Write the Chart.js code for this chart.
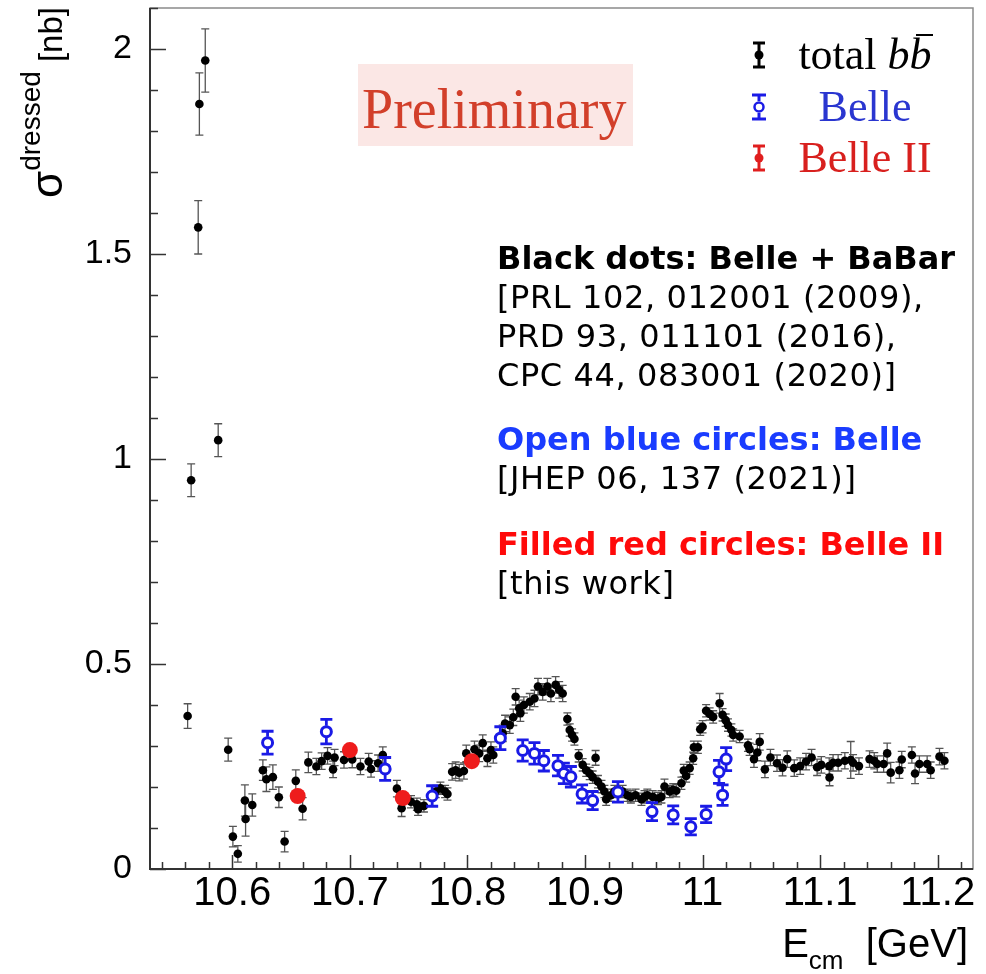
<!DOCTYPE html>
<html lang="en">
<head>
<meta charset="UTF-8">
<title>Dressed b-bbar cross section</title>
<script src="https://cdn.jsdelivr.net/npm/chart.js"></script>
<style>
  body { margin: 0; background: #fff; }
  #wrap { position: relative; width: 986px; height: 974px; overflow: hidden; }
  #chart { position: absolute; left: 0; top: 0; }
  .abs { position: absolute; white-space: nowrap; }
  #ytitle {
    left: 27px; top: 198px;
    transform-origin: 0 0; transform: rotate(-90deg);
    font-family: "Liberation Sans Narrow", "Liberation Sans", sans-serif;
    font-size: 33px; line-height: 40px; color: #000;
  }
  #ytitle .sig { font-size: 44px; }
  #ytitle .sup { font-size: 28px; position: relative; top: -22px; }
  #xtitle {
    right: 18px; top: 923px;
    font-family: "Liberation Sans Narrow", "Liberation Sans", sans-serif;
    font-size: 40px; line-height: 40px; color: #000;
  }
  #xtitle .sub { font-size: 26px; position: relative; top: 12px; }
  #prelimBox { left: 358px; top: 64px; width: 275px; height: 82px; background: #fbe7e5; }
  #prelim {
    left: 362px; top: 81px;
    font-family: "Liberation Serif", serif; font-size: 56px; line-height: 56px; color: #d23f2a;
  }
  .leg {
    width: 200px; left: 765px; text-align: center;
    font-family: "Liberation Serif", serif; font-size: 44px; line-height: 44px;
  }
  .bbar { position: relative; }
  .bbar::before {
    content: ''; position: absolute; left: 0.14em; right: -0.04em; top: 0.1em;
    border-top: 2px solid #000;
  }
  .note {
    left: 497px;
    font-family: "DejaVu Sans", Verdana, sans-serif; font-size: 32px; line-height: 39px; color: #000;
    letter-spacing: 0.6px;
  }
  .note b { font-weight: bold; letter-spacing: 0; }
</style>
</head>
<body>
<div id="wrap">
  <canvas id="chart" width="986" height="974"></canvas>

  <div id="ytitle" class="abs"><span class="sig">σ</span><span class="sup">dressed</span> [nb]</div>
  <div id="xtitle" class="abs">E<span class="sub">cm</span>&nbsp;&nbsp;[GeV]</div>

  <div id="prelimBox" class="abs"></div>
  <div id="prelim" class="abs">Preliminary</div>

  <svg class="abs" style="left:750px; top:41px" width="18" height="28">
    <line x1="9" y1="2" x2="9" y2="26" stroke="#000" stroke-width="3"/>
    <line x1="3" y1="2" x2="15" y2="2" stroke="#000" stroke-width="3"/>
    <line x1="3" y1="26" x2="15" y2="26" stroke="#000" stroke-width="3"/>
    <circle cx="9" cy="14" r="4.5" fill="#000"/>
  </svg>
  <svg class="abs" style="left:750px; top:93px" width="18" height="28">
    <line x1="9" y1="2" x2="9" y2="8" stroke="#1a1ae6" stroke-width="3"/>
    <line x1="9" y1="20" x2="9" y2="26" stroke="#1a1ae6" stroke-width="3"/>
    <line x1="2" y1="2" x2="16" y2="2" stroke="#1a1ae6" stroke-width="3"/>
    <line x1="2" y1="26" x2="16" y2="26" stroke="#1a1ae6" stroke-width="3"/>
    <circle cx="9" cy="14" r="4.5" fill="#fff" stroke="#1a1ae6" stroke-width="2.5"/>
  </svg>
  <svg class="abs" style="left:750px; top:144px" width="18" height="28">
    <line x1="9" y1="2" x2="9" y2="26" stroke="#e01e1e" stroke-width="3"/>
    <line x1="3" y1="2" x2="15" y2="2" stroke="#e01e1e" stroke-width="3"/>
    <line x1="3" y1="26" x2="15" y2="26" stroke="#e01e1e" stroke-width="3"/>
    <circle cx="9" cy="14" r="4.5" fill="#e01e1e"/>
  </svg>
  <div class="abs leg" style="top:33px; color:#000">total <i>b<span class="bbar">b</span></i></div>
  <div class="abs leg" style="top:85px; color:#2a36d0">Belle</div>
  <div class="abs leg" style="top:136px; color:#d8201e">Belle II</div>

  <div class="abs note" style="top:239px">
    <b>Black dots: Belle + BaBar</b><br>
    [PRL 102, 012001 (2009),<br>
    PRD 93, 011101 (2016),<br>
    CPC 44, 083001 (2020)]
  </div>
  <div class="abs note" style="top:420px">
    <b style="color:#1a3cff">Open blue circles: Belle</b><br>
    [JHEP 06, 137 (2021)]
  </div>
  <div class="abs note" style="top:525px">
    <b style="color:#ff0a0a">Filled red circles: Belle II</b><br>
    [this work]
  </div>
</div>

<script>
// axis ticks
const xTicks = [10.6, 10.7, 10.8, 10.9, 11, 11.1, 11.2];
const yTicks = [0, 0.5, 1, 1.5, 2];

// total b-bbar (Belle + BaBar), E_cm [GeV], sigma [nb], error [nb]
const bbE = [10.562, 10.565, 10.571, 10.572, 10.577, 10.588, 10.5965, 10.6005, 10.6047, 10.6107,
  10.6113, 10.617, 10.626, 10.629, 10.6345, 10.6396, 10.6445, 10.654, 10.6598, 10.6647,
  10.6715, 10.676, 10.681, 10.6857, 10.687, 10.695, 10.702, 10.709, 10.716, 10.718,
  10.724, 10.728, 10.740, 10.744, 10.752, 10.757, 10.758, 10.763, 10.773, 10.777,
  10.781, 10.783, 10.787, 10.790, 10.793, 10.797, 10.799, 10.806, 10.810, 10.813,
  10.817, 10.820, 10.822, 10.830, 10.832, 10.836, 10.839, 10.841, 10.844, 10.845,
  10.848, 10.853, 10.857, 10.860, 10.864, 10.868, 10.871, 10.875, 10.878, 10.881,
  10.885, 10.887, 10.889, 10.891, 10.8946, 10.898, 10.901, 10.904, 10.9065, 10.909,
  10.911, 10.914, 10.9165, 10.918, 10.922, 10.925, 10.932, 10.936, 10.939, 10.943,
  10.948, 10.9506, 10.953, 10.9576, 10.962, 10.965, 10.9676, 10.972, 10.975, 10.9776,
  10.982, 10.984, 10.986, 10.989, 10.992, 10.9926, 10.996, 10.998, 11.000, 11.003,
  11.006, 11.009, 11.0145, 11.017, 11.0196, 11.0216, 11.0245, 11.026, 11.0315, 11.0386,
  11.040, 11.0437, 11.0466, 11.0486, 11.053, 11.0577, 11.0633, 11.068, 11.072, 11.078,
  11.083, 11.088, 11.0927, 11.0974, 11.101, 11.1077, 11.108, 11.111, 11.1153, 11.121,
  11.126, 11.128, 11.133, 11.142, 11.146, 11.1486, 11.154, 11.157, 11.160, 11.1674,
  11.1694, 11.178, 11.1807, 11.1844, 11.191, 11.194, 11.2015, 11.2057];
const bbSigma = [0.373, 0.948, 1.565, 1.866, 1.972, 1.046, 0.291, 0.079, 0.037, 0.167,
  0.122, 0.156, 0.241, 0.219, 0.224, 0.175, 0.067, 0.215, 0.147, 0.260,
  0.250, 0.263, 0.276, 0.243, 0.272, 0.266, 0.267, 0.250, 0.262, 0.244,
  0.258, 0.278, 0.196, 0.148, 0.164, 0.158, 0.146, 0.154, 0.189, 0.197,
  0.189, 0.183, 0.237, 0.241, 0.235, 0.239, 0.282, 0.292, 0.282, 0.307,
  0.270, 0.290, 0.278, 0.331, 0.355, 0.351, 0.370, 0.420, 0.392, 0.380,
  0.400, 0.408, 0.416, 0.445, 0.432, 0.445, 0.428, 0.449, 0.437, 0.428,
  0.366, 0.339, 0.327, 0.317, 0.276, 0.254, 0.241, 0.233, 0.224, 0.271,
  0.213, 0.201, 0.189, 0.170, 0.180, 0.189, 0.189, 0.180, 0.176, 0.180,
  0.170, 0.176, 0.180, 0.176, 0.172, 0.176, 0.201, 0.189, 0.193, 0.191,
  0.209, 0.240, 0.227, 0.246, 0.270, 0.297, 0.297, 0.341, 0.347, 0.386,
  0.378, 0.371, 0.404, 0.376, 0.363, 0.351, 0.339, 0.327, 0.323, 0.302,
  0.292, 0.268, 0.284, 0.310, 0.243, 0.272, 0.258, 0.247, 0.268, 0.246,
  0.251, 0.262, 0.272, 0.248, 0.254, 0.251, 0.223, 0.259, 0.259, 0.264,
  0.266, 0.259, 0.251, 0.268, 0.264, 0.256, 0.256, 0.282, 0.235, 0.241,
  0.267, 0.278, 0.233, 0.256, 0.256, 0.241, 0.274, 0.264];
const bbErr = [0.030, 0.040, 0.065, 0.076, 0.077, 0.040, 0.028, 0.025, 0.020, 0.038,
  0.042, 0.027, 0.025, 0.030, 0.030, 0.025, 0.025, 0.027, 0.027, 0.025,
  0.020, 0.020, 0.020, 0.020, 0.020, 0.020, 0.020, 0.020, 0.020, 0.020,
  0.020, 0.020, 0.020, 0.020, 0.015, 0.015, 0.015, 0.015, 0.015, 0.015,
  0.015, 0.015, 0.020, 0.020, 0.020, 0.020, 0.020, 0.020, 0.020, 0.020,
  0.020, 0.020, 0.020, 0.020, 0.020, 0.020, 0.020, 0.020, 0.020, 0.020,
  0.020, 0.020, 0.020, 0.020, 0.020, 0.020, 0.020, 0.020, 0.020, 0.020,
  0.015, 0.015, 0.015, 0.015, 0.015, 0.015, 0.015, 0.015, 0.015, 0.018,
  0.015, 0.015, 0.015, 0.015, 0.015, 0.015, 0.015, 0.015, 0.015, 0.015,
  0.015, 0.015, 0.015, 0.015, 0.015, 0.015, 0.018, 0.015, 0.015, 0.015,
  0.015, 0.015, 0.015, 0.015, 0.015, 0.015, 0.015, 0.015, 0.015, 0.015,
  0.015, 0.015, 0.024, 0.015, 0.015, 0.015, 0.015, 0.015, 0.015, 0.015,
  0.015, 0.020, 0.020, 0.020, 0.020, 0.020, 0.020, 0.020, 0.020, 0.020,
  0.020, 0.020, 0.020, 0.020, 0.020, 0.020, 0.020, 0.020, 0.020, 0.020,
  0.045, 0.020, 0.020, 0.020, 0.020, 0.020, 0.020, 0.025, 0.025, 0.020,
  0.020, 0.020, 0.025, 0.020, 0.020, 0.020, 0.020, 0.020];

// Belle (JHEP 06, 137)
const belleE = [10.630, 10.680, 10.730, 10.770, 10.828, 10.847, 10.857, 10.865, 10.877, 10.882,
  10.888, 10.8975, 10.9065, 10.928, 10.957, 10.975, 10.990, 11.003, 11.014, 11.017, 11.020];
const belleSigma = [0.308, 0.335, 0.244, 0.178, 0.319, 0.289, 0.282, 0.264, 0.252, 0.233,
  0.225, 0.183, 0.167, 0.188, 0.140, 0.132, 0.103, 0.133, 0.237, 0.180, 0.268];
const belleErr = [0.028, 0.030, 0.028, 0.025, 0.028, 0.026, 0.026, 0.025, 0.025, 0.025,
  0.025, 0.022, 0.022, 0.025, 0.022, 0.022, 0.020, 0.020, 0.028, 0.025, 0.028];

// Belle II (this work)
const b2E = [10.6556, 10.700, 10.745, 10.8037];
const b2Sigma = [0.178, 0.290, 0.173, 0.263];
const b2Err = [0.012, 0.012, 0.012, 0.012];

const toPoints = (xs, ys) => xs.map((v, i) => ({ x: v, y: ys[i] }));

// ROOT-like frame, inward ticks and error bars
const rootStyle = {
  id: 'rootStyle',
  beforeDatasetsDraw(chart) {
    const { ctx, chartArea: a, scales: { x, y } } = chart;
    ctx.save();
    ctx.strokeStyle = '#8a8a8a';
    ctx.lineWidth = 1.5;
    ctx.strokeRect(a.left, a.top, a.right - a.left, a.bottom - a.top);
    ctx.strokeStyle = '#333';
    ctx.lineWidth = 2;
    ctx.beginPath();
    ctx.moveTo(a.left, a.top);
    ctx.lineTo(a.left, a.bottom);
    ctx.lineTo(a.right, a.bottom);
    ctx.stroke();

    ctx.lineWidth = 1.5;
    ctx.beginPath();
    for (let k = 0; k <= 21; k++) {
      const py = Math.round(y.getPixelForValue(k / 10)) + 0.5;
      const len = k % 5 === 0 ? 16 : 8;
      ctx.moveTo(a.left, py);
      ctx.lineTo(a.left + len, py);
    }
    for (let k = 527; k <= 561; k++) {
      const px = Math.round(x.getPixelForValue(k / 50)) + 0.5;
      const len = k % 5 === 0 ? 14 : 7;
      ctx.moveTo(px, a.bottom);
      ctx.lineTo(px, a.bottom - len);
    }
    ctx.stroke();
    ctx.restore();
  },
  beforeDatasetDraw(chart, args) {
    const ds = chart.data.datasets[args.index];
    if (!ds.errors) return;
    const { ctx, scales: { x, y } } = chart;
    const gap = ds.barGap || 0;
    ctx.save();
    ctx.strokeStyle = ds.barColor;
    ctx.lineWidth = ds.barWidth;
    ctx.beginPath();
    ds.data.forEach((p, i) => {
      const px = x.getPixelForValue(p.x);
      const pc = y.getPixelForValue(p.y);
      const top = y.getPixelForValue(p.y + ds.errors[i]);
      const bot = y.getPixelForValue(p.y - ds.errors[i]);
      if (pc - top > gap) {
        ctx.moveTo(px, top); ctx.lineTo(px, pc - gap);
        ctx.moveTo(px, pc + gap); ctx.lineTo(px, bot);
      }
      ctx.moveTo(px - ds.capHalf, top); ctx.lineTo(px + ds.capHalf, top);
      ctx.moveTo(px - ds.capHalf, bot); ctx.lineTo(px + ds.capHalf, bot);
    });
    ctx.stroke();
    ctx.restore();
  }
};

// keep the plot frame where the reference has it
const noPad = s => { s.paddingTop = 0; s.paddingBottom = 0; s.paddingLeft = 0; s.paddingRight = 0; };

new Chart(document.getElementById('chart'), {
  type: 'scatter',
  data: {
    datasets: [
      {
        label: 'Belle II',
        data: toPoints(b2E, b2Sigma),
        errors: b2Err,
        pointRadius: 8,
        pointBackgroundColor: '#ee1c1c',
        pointBorderWidth: 0,
        barColor: '#ee1c1c', barWidth: 2, capHalf: 4
      },
      {
        label: 'Belle',
        data: toPoints(belleE, belleSigma),
        errors: belleErr,
        pointRadius: 5,
        pointBackgroundColor: '#ffffff',
        pointBorderColor: '#1a1ae6',
        pointBorderWidth: 3,
        barColor: '#1a1ae6', barWidth: 2.8, capHalf: 6, barGap: 6
      },
      {
        label: 'total b bbar',
        data: toPoints(bbE, bbSigma),
        errors: bbErr,
        pointRadius: 4.3,
        pointBackgroundColor: '#000',
        pointBorderWidth: 0,
        barColor: '#555', barWidth: 1.3, capHalf: 4
      }
    ]
  },
  options: {
    responsive: false,
    animation: false,
    layout: { padding: { top: 7, right: 13, left: 0, bottom: 0 } },
    plugins: { legend: { display: false }, tooltip: { enabled: false } },
    scales: {
      x: {
        type: 'linear',
        min: 10.53,
        max: 11.23,
        afterBuildTicks: s => { s.ticks = xTicks.map(v => ({ value: v })); },
        afterFit: s => { s.height = 105; noPad(s); },
        grid: { display: false, drawTicks: false },
        border: { display: false },
        ticks: {
          autoSkip: false, maxRotation: 0, padding: 5, color: '#000',
          font: { family: '"Liberation Sans Narrow", "Liberation Sans", sans-serif', size: 40, lineHeight: 1 },
          callback: v => String(v)
        }
      },
      y: {
        min: 0,
        max: 2.1,
        afterBuildTicks: s => { s.ticks = yTicks.map(v => ({ value: v })); },
        afterFit: s => { s.width = 150; noPad(s); },
        grid: { display: false, drawTicks: false },
        border: { display: false },
        ticks: {
          padding: 18, color: '#000',
          font: { family: '"Liberation Sans", Arial, sans-serif', size: 34 },
          callback: v => String(v)
        }
      }
    }
  },
  plugins: [rootStyle]
});
</script>
</body>
</html>
